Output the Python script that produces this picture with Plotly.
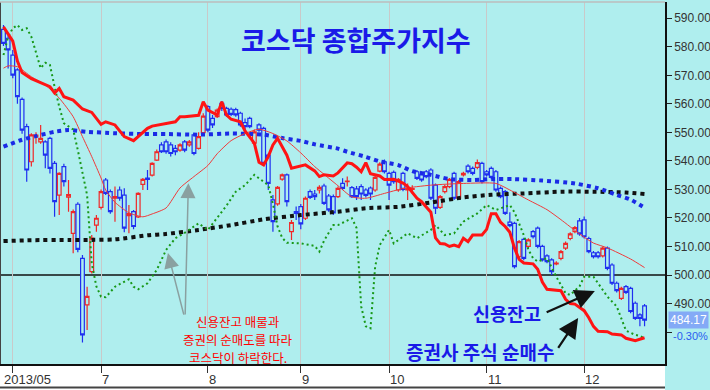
import plotly.graph_objects as go

# ---------------- data ----------------
days = list(range(139))

opens = [
    586.1, 583.0, 577.1, 571.9, 561.6, 552.0, 539.7, 548.5, 546.7, 546.7,
    547.9, 539.1, 528.0, 538.0, 527.3, 514.6, 524.8, 505.8, 489.5, 501.2,
    517.5, 523.7, 533.3, 529.2, 526.9, 529.8, 528.0, 520.8, 522.2, 520.4,
    531.8, 534.0, 535.0, 540.3, 545.6, 546.7, 545.6, 544.4, 543.8, 546.7,
    545.6, 549.1, 544.4, 549.9, 559.0, 554.9, 555.5, 560.2, 558.4, 558.1,
    558.0, 556.7, 553.4, 554.9, 546.2, 552.6, 551.4, 542.0, 526.3, 524.9,
    533.6, 535.1, 515.2, 522.2, 524.0, 519.9, 529.2, 528.4, 529.8, 531.2,
    527.7, 527.5, 527.5, 532.1, 532.7, 530.6, 530.2, 531.0, 529.8, 530.5,
    529.8, 536.4, 539.7, 535.6, 536.0, 529.8, 535.6, 529.8, 530.0, 536.2,
    535.1, 536.2, 536.8, 531.5, 523.7, 529.2, 531.0, 535.6, 526.9, 535.1,
    538.2, 537.4, 537.7, 539.1, 536.2, 537.4, 536.2, 530.4, 529.2, 518.5,
    518.1, 506.4, 512.5, 510.0, 515.2, 516.4, 510.0, 506.7, 505.3, 503.9,
    505.8, 509.4, 512.8, 515.2, 519.0, 519.3, 512.8, 507.8, 507.8, 506.7,
    509.4, 503.5, 497.1, 491.8, 495.9, 495.3, 490.1, 486.0, 489.2,
]
highs = [
    587.6, 584.0, 578.9, 572.5, 562.2, 553.0, 549.7, 550.0, 552.6, 547.2,
    548.5, 540.0, 536.0, 539.0, 533.3, 523.0, 525.5, 507.0, 495.9, 514.0,
    521.0, 530.0, 534.0, 530.0, 531.0, 531.0, 530.4, 524.5, 522.8, 529.0,
    534.0, 536.8, 539.5, 544.0, 546.5, 547.5, 546.5, 545.6, 546.2, 547.3,
    547.3, 549.7, 550.0, 556.7, 559.5, 556.1, 558.4, 561.0, 559.0, 558.7,
    558.6, 557.2, 554.9, 555.5, 551.0, 553.2, 552.0, 542.6, 528.0, 531.2,
    535.6, 535.6, 519.3, 524.0, 524.9, 527.5, 530.0, 529.8, 531.5, 532.0,
    528.4, 528.2, 531.0, 533.9, 534.5, 531.2, 531.2, 531.8, 530.4, 531.0,
    534.8, 539.5, 540.5, 536.2, 536.6, 534.0, 536.2, 532.1, 531.5, 536.8,
    535.7, 536.8, 537.4, 532.1, 528.0, 531.6, 534.0, 536.2, 533.3, 536.2,
    538.8, 538.0, 540.5, 539.7, 536.8, 538.0, 536.8, 531.0, 529.8, 522.0,
    518.7, 512.3, 513.1, 512.9, 515.8, 517.0, 510.6, 507.3, 505.9, 504.8,
    508.8, 511.7, 515.0, 517.2, 520.0, 520.5, 513.4, 508.4, 508.4, 510.0,
    510.0, 504.1, 497.7, 495.9, 496.5, 495.9, 490.7, 486.6, 489.8,
]
lows = [
    580.3, 572.4, 569.0, 560.0, 549.5, 532.7, 538.0, 546.0, 546.0, 537.4,
    535.6, 520.4, 521.0, 531.0, 522.2, 507.6, 508.0, 476.3, 480.7, 500.5,
    515.2, 523.0, 528.0, 521.5, 518.7, 526.0, 515.0, 514.6, 516.0, 520.0,
    529.8, 529.8, 534.5, 540.0, 542.8, 542.5, 541.5, 542.0, 543.2, 543.0,
    545.0, 542.0, 544.0, 549.0, 550.0, 551.5, 555.0, 557.5, 555.5, 555.7,
    555.5, 552.0, 550.2, 551.4, 545.6, 550.2, 538.5, 529.8, 515.2, 524.3,
    533.0, 524.0, 512.3, 519.3, 516.0, 519.3, 526.6, 526.3, 528.6, 524.5,
    522.2, 521.0, 527.0, 529.8, 531.0, 527.0, 526.3, 526.3, 527.2, 526.3,
    529.2, 536.0, 535.6, 526.3, 532.0, 529.2, 529.4, 526.3, 528.5, 533.3,
    532.7, 533.9, 526.3, 521.4, 523.1, 528.6, 530.4, 526.3, 526.3, 534.5,
    535.6, 535.0, 537.1, 532.1, 534.5, 533.6, 529.2, 526.9, 521.0, 516.7,
    502.3, 505.8, 505.2, 509.4, 512.8, 509.4, 504.7, 504.1, 500.0, 503.4,
    505.2, 508.8, 512.2, 514.6, 513.8, 512.8, 507.6, 505.8, 505.8, 506.1,
    501.7, 496.5, 493.9, 491.2, 493.3, 486.6, 484.2, 482.0, 482.0,
]
closes = [
    581.2, 578.9, 570.1, 562.5, 550.8, 536.8, 549.1, 549.0, 547.9, 542.0,
    537.4, 525.7, 535.6, 532.7, 528.2, 522.2, 509.0, 479.0, 492.5, 512.9,
    519.9, 529.2, 528.6, 522.2, 527.5, 526.9, 516.4, 521.5, 517.0, 528.6,
    533.5, 533.5, 539.1, 543.2, 543.2, 543.2, 542.6, 543.2, 545.6, 543.8,
    546.7, 542.6, 548.5, 555.7, 550.8, 552.6, 557.8, 558.4, 556.1, 556.3,
    556.1, 552.6, 552.0, 552.0, 550.2, 550.8, 539.1, 532.1, 518.7, 530.7,
    535.1, 525.7, 518.4, 521.6, 517.9, 526.9, 527.2, 527.5, 530.7, 525.1,
    522.8, 521.8, 530.4, 530.4, 532.9, 527.5, 527.5, 528.4, 527.9, 528.4,
    534.2, 538.9, 536.2, 531.5, 532.7, 533.5, 530.0, 530.4, 530.3, 533.9,
    533.3, 534.5, 526.9, 523.4, 527.5, 531.0, 533.5, 526.9, 532.7, 535.6,
    536.2, 535.6, 539.4, 532.7, 535.1, 534.2, 529.8, 527.5, 521.6, 517.3,
    502.9, 511.7, 505.8, 512.3, 513.4, 510.0, 505.3, 504.7, 501.2, 504.2,
    508.2, 511.1, 514.4, 516.6, 514.4, 513.4, 508.2, 506.4, 506.4, 509.4,
    502.3, 497.1, 494.5, 495.3, 493.9, 487.2, 484.8, 484.8, 484.17,
]

# securities firms' net buying (thick red line), (day, value)
broker_net_buy = [
    (0, 587.0), (2, 582.0), (3, 575.0), (4, 571.0), (6, 568.8), (8, 567.5),
    (10, 566.0), (11, 563.8), (12, 565.4), (13, 562.5), (15, 561.3), (17, 558.2),
    (19, 557.0), (21, 552.8), (22, 553.7), (24, 552.6), (25, 550.5), (26, 548.5),
    (28, 547.1), (29, 548.5), (31, 551.4), (32, 552.2), (35, 553.2), (37, 553.7),
    (38, 555.5), (39, 555.5), (42, 556.0), (43, 560.7), (44, 557.8), (46, 556.1),
    (47, 560.7), (48, 556.1), (49, 554.6), (51, 553.7), (52, 550.5), (54, 546.2),
    (55, 539.5), (56, 538.6), (57, 541.5), (58, 545.6), (59, 547.9), (61, 542.0),
    (62, 537.4), (64, 538.2), (65, 538.6), (67, 536.5), (68, 534.5), (69, 535.1),
    (71, 534.7), (72, 535.8), (73, 537.5), (74, 539.3), (75, 539.0), (76, 537.8),
    (77, 536.2), (78, 539.4), (79, 535.5), (80, 535.0), (81, 534.7), (82, 533.5),
    (84, 533.6), (86, 532.2), (87, 531.0), (89, 526.9), (90, 525.7), (92, 522.0),
    (93, 513.0), (94, 511.0), (95, 510.9), (96, 510.0), (97, 510.5), (98, 509.9),
    (99, 512.9), (100, 511.7), (101, 514.0), (103, 514.0), (104, 516.0), (105, 521.5),
    (106, 521.5), (107, 518.5), (108, 517.0), (109, 515.0), (110, 509.4), (111, 505.5),
    (112, 504.2), (114, 503.9), (115, 502.0), (116, 497.5), (117, 495.0), (120, 494.5),
    (121, 491.5), (122, 490.0), (123, 489.8), (125, 487.5), (126, 485.0), (127, 482.0),
    (128, 480.3), (130, 480.1), (131, 479.3), (133, 479.0), (134, 477.8), (136, 477.0),
    (137, 477.5), (138, 478.0),
]

# credit balance (green dotted line), (day, value)
credit_balance = [
    (0, 577.1), (1, 583.5), (2, 586.5), (3, 587.6), (4, 585.9), (5, 586.5),
    (6, 583.5), (7, 577.7), (8, 572.5), (9, 574.4), (10, 573.6), (11, 566.0),
    (12, 559.0), (13, 553.2), (15, 551.0), (16, 543.8), (17, 535.6), (18, 528.0),
    (19, 504.0), (20, 496.0), (21, 492.4), (22, 492.2), (24, 495.9), (27, 498.5),
    (28, 495.9), (29, 495.0), (31, 497.1), (33, 501.8), (35, 508.8), (37, 512.9),
    (39, 514.8), (42, 518.1), (44, 515.8), (46, 520.0), (48, 524.3), (50, 529.2),
    (52, 531.5), (54, 535.1), (56, 532.7), (57, 531.5), (58, 525.0), (59, 517.0),
    (60, 513.0), (61, 511.3), (64, 511.1), (67, 510.2), (68, 508.2), (69, 512.0),
    (71, 517.5), (72, 517.5), (75, 519.9), (76, 516.5), (77, 489.0), (78, 482.0),
    (79, 481.3), (80, 502.9), (81, 510.5), (83, 515.8), (84, 511.1), (87, 514.6),
    (89, 512.9), (92, 515.8), (93, 517.5), (95, 514.0), (97, 514.6), (99, 518.7),
    (102, 521.6), (104, 524.5), (106, 522.8), (109, 524.5), (110, 522.0), (112, 514.0),
    (113, 508.8), (114, 505.9), (115, 504.7), (117, 505.9), (119, 499.4), (121, 493.6),
    (122, 493.0), (124, 496.0), (125, 499.4), (127, 499.4), (128, 497.1), (130, 492.4),
    (132, 489.0), (133, 484.5), (134, 480.5), (136, 479.0), (137, 478.6), (138, 477.8),
]

# short moving average (thin red line)
ma_short = [
    (0, 572.5), (1, 573.3), (3, 573.0), (6, 569.5), (9, 566.6), (12, 562.0),
    (15, 555.5), (17, 548.5), (19, 541.5), (21, 534.0), (22, 529.8), (24, 525.5),
    (27, 521.8), (30, 520.4), (32, 521.4), (35, 523.5), (38, 530.5), (41, 534.5),
    (44, 538.4), (46, 542.5), (49, 547.1), (52, 549.6), (55, 551.1), (58, 549.6),
    (61, 547.0), (64, 542.8), (67, 538.0), (69, 535.3), (72, 531.3), (75, 527.4),
    (78, 526.9), (82, 528.6), (86, 530.3), (92, 531.5), (99, 532.1), (106, 532.1),
    (109, 529.8), (113, 526.3), (117, 522.9), (120, 519.4), (124, 514.4), (127, 511.2),
    (130, 509.5), (135, 505.6), (138, 502.6),
]

# mid moving average (blue dotted line)
ma_mid = [
    (0, 545.0), (4, 547.4), (7, 548.7), (11, 550.2), (14, 550.8), (18, 550.2),
    (24, 549.7), (30, 549.4), (35, 549.4), (42, 549.2), (49, 549.6), (56, 549.2),
    (60, 548.0), (64, 547.0), (67, 545.8), (72, 544.3), (74, 543.2), (78, 541.4),
    (81, 539.8), (85, 538.5), (88, 536.4), (92, 535.1), (96, 533.6), (101, 533.3),
    (105, 533.6), (110, 533.6), (116, 533.1), (123, 532.1), (128, 530.4), (132, 528.1),
    (135, 526.4), (138, 523.6),
]

# long moving average (black dotted line)
ma_long = [
    (0, 511.9), (6, 512.2), (14, 512.3), (19, 512.3), (24, 512.5), (31, 513.9),
    (35, 514.4), (42, 515.8), (49, 517.5), (56, 519.5), (64, 521.0), (72, 522.2),
    (78, 523.4), (85, 523.9), (92, 525.4), (99, 527.2), (105, 528.1), (112, 528.6),
    (120, 529.2), (127, 529.2), (134, 528.9), (138, 528.4),
]

month_tick_days = [2, 21, 44, 64, 83, 104, 125]
month_tick_text = ["2013/05", "7", "8", "9", "10", "11", "12"]

price_tick_vals = [480, 490, 500, 510, 520, 530, 540, 550, 560, 570, 580, 590]
price_tick_text = ["", "490.00", "500.00", "510.00", "520.00", "530.00",
                   "540.00", "550.00", "560.00", "570.00", "580.00", "590.00"]

last_close = 484.17
last_close_text = "484.17"
change_text = "-0.30%"

title_text = "코스닥 종합주가지수"
note_lines = ["신용잔고 매물과", "증권의 순매도를 따라", "코스닥이 하락한다."]
credit_label = "신용잔고"
broker_label = "증권사 주식 순매수"

# ---------------- styling ----------------
W, H = 710, 390
ML, MR, MT, MB = 0, 45, 2, 26
PW, PH = W - ML - MR, H - MT - MB
BG = "#afeeee"
RED = "#f02828"
BLUE = "#1f2ff0"
TXT_BLUE = "#1a1ae8"
CJK = "Noto Sans CJK KR"
NUM = "Liberation Sans Narrow, Arial Narrow, Liberation Sans, Arial"


def pxx(x):
    return (x - ML) / PW


def pxy(y):
    return (MT + PH - y) / PH


def split(pairs):
    return [p[0] for p in pairs], [p[1] for p in pairs]


fig = go.Figure()

fig.add_trace(go.Candlestick(
    x=days, open=opens, high=highs, low=lows, close=closes,
    increasing=dict(line=dict(color=RED, width=1.2), fillcolor=BG),
    decreasing=dict(line=dict(color=BLUE, width=1.2), fillcolor=BG),
    whiskerwidth=0, showlegend=False, hoverinfo="skip",
))

lx, ly = split(ma_long)
fig.add_trace(go.Scatter(x=lx, y=ly, mode="lines", line=dict(color="#111111", width=4, dash="dot", shape="spline", smoothing=0.6), showlegend=False, hoverinfo="skip"))
mx, my = split(ma_mid)
fig.add_trace(go.Scatter(x=mx, y=my, mode="lines", line=dict(color="#1a2ae6", width=4, dash="dot", shape="spline", smoothing=0.6), showlegend=False, hoverinfo="skip"))
gx, gy = split(credit_balance)
fig.add_trace(go.Scatter(x=gx, y=gy, mode="lines", line=dict(color="#189818", width=2, dash="2px,3px"), showlegend=False, hoverinfo="skip"))
sx, sy = split(ma_short)
fig.add_trace(go.Scatter(x=sx, y=sy, mode="lines", line=dict(color="#f03a3a", width=1, shape="spline", smoothing=0.6), showlegend=False, hoverinfo="skip"))
bx, by = split(broker_net_buy)
fig.add_trace(go.Scatter(x=bx, y=by, mode="lines", line=dict(color="#ff1414", width=3), showlegend=False, hoverinfo="skip"))


def label(text, x, y, size, color, weight="normal", **kw):
    d = dict(text=text, xref="paper", yref="paper", x=pxx(x), y=pxy(y),
             xanchor="center", yanchor="middle", showarrow=False,
             font=dict(family=CJK, size=size, color=color, weight=weight))
    d.update(kw)
    return d


annotations = []
annotations.append(label(title_text, 356, 40, 27, TXT_BLUE, weight="bold"))
for txt, yy in zip(note_lines, [321, 339, 357]):
    annotations.append(label(txt, 238, yy, 12.5, "#ff0000"))
annotations.append(label(credit_label, 507, 313, 18.5, TXT_BLUE, weight="bold"))
annotations.append(label(broker_label, 480, 351, 19, TXT_BLUE, weight="bold"))

# gray arrows (note -> credit line)
annotations.append(dict(text="", x=35.4, y=507.7, ax=38.9, ay=485.6, xref="x", yref="y", axref="x", ayref="y",
                        showarrow=True, arrowhead=2, arrowsize=2.0, arrowwidth=1.5, arrowcolor="#8aa0a0"))
annotations.append(dict(text="", x=39.8, y=532.2, ax=39.1, ay=485.6, xref="x", yref="y", axref="x", ayref="y",
                        showarrow=True, arrowhead=2, arrowsize=2.0, arrowwidth=1.5, arrowcolor="#8aa0a0"))
# black arrows
annotations.append(dict(text="", x=127.3, y=494.4, ax=116.6, ay=486.7, xref="x", yref="y", axref="x", ayref="y",
                        showarrow=True, arrowhead=2, arrowsize=1.8, arrowwidth=2.2, arrowcolor="#111111"))
annotations.append(dict(text="", x=123.7, y=484.9, ax=119.2, ay=473.9, xref="x", yref="y", axref="x", ayref="y",
                        showarrow=True, arrowhead=2, arrowsize=1.8, arrowwidth=2.2, arrowcolor="#111111"))
# month labels
for i, (d, t) in enumerate(zip(month_tick_days, month_tick_text)):
    if i == 0:
        annotations.append(dict(text=t, xref="paper", x=0, xshift=2, yref="paper", y=pxy(380),
                                xanchor="left", yanchor="middle", showarrow=False,
                                font=dict(family=NUM, size=13, color="#333333")))
    else:
        annotations.append(dict(text=t, xref="x", x=d, xshift=-1, yref="paper", y=pxy(380),
                                xanchor="left", yanchor="middle", showarrow=False,
                                font=dict(family=NUM, size=13, color="#333333")))
# last price box
annotations.append(dict(text=last_close_text, xref="paper", x=1, xshift=3, yref="y", y=last_close,
                        xanchor="left", yanchor="middle", showarrow=False, bgcolor="#84aaf6",
                        borderpad=1, font=dict(family=NUM, size=12, color="#ffffff")))
annotations.append(dict(text=change_text, xref="paper", x=1, xshift=6, yref="paper", y=pxy(336),
                        xanchor="left", yanchor="middle", showarrow=False,
                        font=dict(family=NUM, size=11, color="#2a5cf0")))

shapes = [
    dict(type="rect", xref="paper", yref="paper", x0=0, x1=1, y0=-MB / PH, y1=0,
         fillcolor="#ffffff", line=dict(width=0), layer="below"),
    dict(type="line", xref="paper", yref="paper", x0=0, x1=1, y0=pxy(387.5), y1=pxy(387.5),
         line=dict(color="#444444", width=2)),
    dict(type="line", xref="paper", yref="y", x0=0, x1=1, y0=500, y1=500,
         line=dict(color="#111111", width=1.3), layer="below"),
    dict(type="line", xref="paper", yref="paper", x0=0, x1=0, y0=0, y1=1,
         line=dict(color="#444444", width=2)),
    dict(type="line", xref="paper", yref="paper", x0=0, x1=1, y0=1, y1=1,
         line=dict(color="#bdbdbd", width=1.5)),
]

fig.update_layout(
    template="none",
    width=W, height=H,
    margin=dict(l=ML, r=MR, t=MT, b=MB, pad=0),
    paper_bgcolor=BG, plot_bgcolor=BG,
    showlegend=False,
    boxgap=0.2, boxgroupgap=0,
    annotations=annotations,
    shapes=shapes,
    xaxis=dict(range=[-0.75, 142.4], rangeslider=dict(visible=False), showgrid=True,
               gridcolor="#c9c9c9", gridwidth=1, tickvals=month_tick_days, showticklabels=False,
               ticks="outside", ticklen=7, tickcolor="#333333", showline=True, linecolor="#111111",
               linewidth=2, zeroline=False, automargin=False, fixedrange=True),
    yaxis=dict(range=[468.8, 595.7], side="right", showgrid=False, zeroline=False,
               tickvals=price_tick_vals, ticktext=price_tick_text, ticks="outside", ticklen=5,
               tickcolor="#222222", showline=True, linecolor="#111111", linewidth=1.5,
               tickfont=dict(family=NUM, size=12, color="#333333"), automargin=False, fixedrange=True),
)

fig.write_html("out.html")
